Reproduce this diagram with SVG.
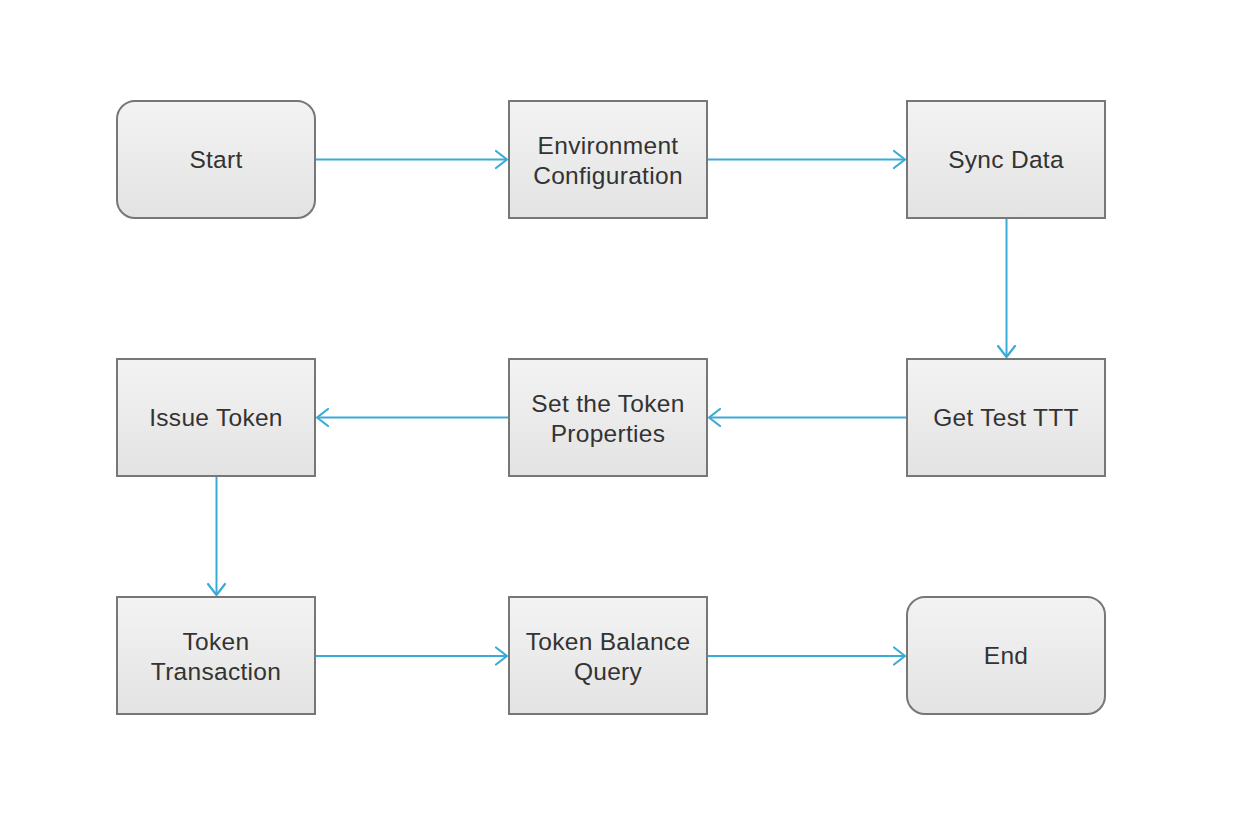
<svg xmlns="http://www.w3.org/2000/svg" width="1236" height="836" viewBox="0 0 1236 836">
<style>
.box{fill:url(#g);stroke:#777;stroke-width:2}
.t{font-family:"Liberation Sans",Arial,sans-serif;font-size:24.5px;letter-spacing:0.3px;fill:#333;text-anchor:middle}
.c{fill:none;stroke:#3aabd8;stroke-width:2}
.ah{fill:none;stroke:#3aabd8;stroke-width:2.2;stroke-linecap:round;stroke-linejoin:round}
</style>
<defs>
<linearGradient id="g" x1="0" y1="0" x2="0" y2="1">
<stop offset="0" stop-color="#f3f3f3"/>
<stop offset="1" stop-color="#e3e3e3"/>
</linearGradient>
</defs>
<rect width="1236" height="836" fill="#fff"/>
<g id="connectors">
<path class="c" d="M316 159.5H506"/><path class="ah" d="M496 151L507 159.5L496 168"/>
<path class="c" d="M708 159.5H904"/><path class="ah" d="M894 151L905 159.5L894 168"/>
<path class="c" d="M1006.5 219V356"/><path class="ah" d="M998 346L1006.5 357L1015 346"/>
<path class="c" d="M906 417.5H710"/><path class="ah" d="M720 409L709 417.5L720 426"/>
<path class="c" d="M508 417.5H318"/><path class="ah" d="M328 409L317 417.5L328 426"/>
<path class="c" d="M216.5 477V594"/><path class="ah" d="M208 584L216.5 595L225 584"/>
<path class="c" d="M316 656H506"/><path class="ah" d="M496 647.5L507 656L496 664.5"/>
<path class="c" d="M708 656H904"/><path class="ah" d="M894 647.5L905 656L894 664.5"/>
</g>
<g id="start"><rect class="box" x="117" y="101" width="198" height="117" rx="18"/><text class="t" x="216" y="168">Start</text></g>
<g id="env"><rect class="box" x="509" y="101" width="198" height="117"/><text class="t" x="608" y="153.5">Environment</text><text class="t" x="608" y="184">Configuration</text></g>
<g id="sync"><rect class="box" x="907" y="101" width="198" height="117"/><text class="t" x="1006" y="168">Sync Data</text></g>
<g id="get"><rect class="box" x="907" y="359" width="198" height="117"/><text class="t" x="1006" y="426">Get Test TTT</text></g>
<g id="setprops"><rect class="box" x="509" y="359" width="198" height="117"/><text class="t" x="608" y="411.5">Set the Token</text><text class="t" x="608" y="442">Properties</text></g>
<g id="issue"><rect class="box" x="117" y="359" width="198" height="117"/><text class="t" x="216" y="426">Issue Token</text></g>
<g id="tx"><rect class="box" x="117" y="597" width="198" height="117"/><text class="t" x="216" y="649.5">Token</text><text class="t" x="216" y="680">Transaction</text></g>
<g id="balance"><rect class="box" x="509" y="597" width="198" height="117"/><text class="t" x="608" y="649.5">Token Balance</text><text class="t" x="608" y="680">Query</text></g>
<g id="end"><rect class="box" x="907" y="597" width="198" height="117" rx="18"/><text class="t" x="1006" y="664">End</text></g>
</svg>
